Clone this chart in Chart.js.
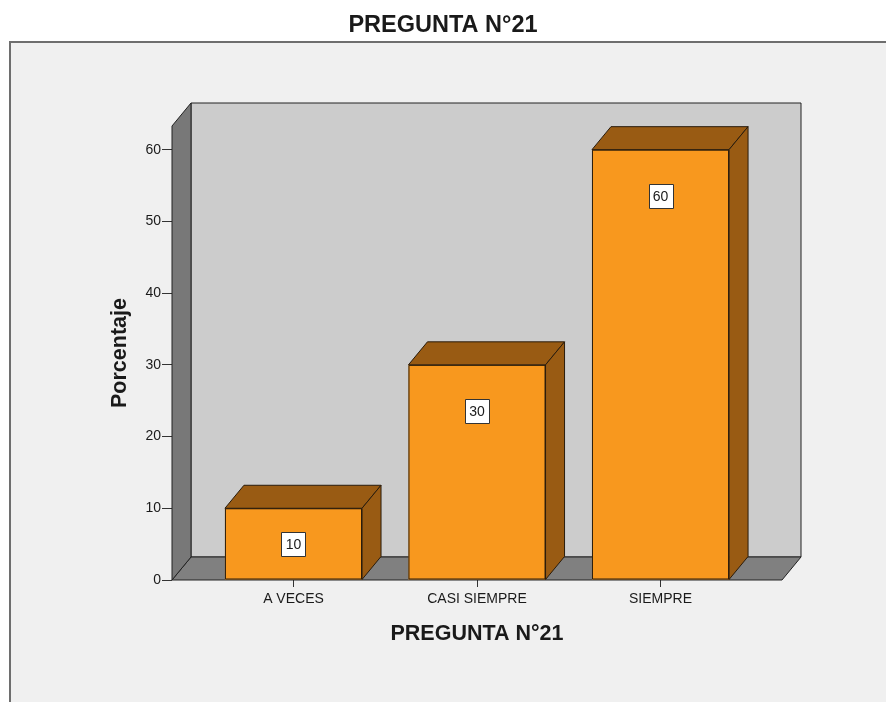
<!DOCTYPE html>
<html>
<head>
<meta charset="utf-8">
<script src="https://cdn.jsdelivr.net/npm/chart.js@4/dist/chart.umd.min.js"></script>
<style>
  html, body { margin: 0; padding: 0; background: #ffffff; }
  #wrap { width: 886px; height: 702px; }
</style>
</head>
<body>
<div id="wrap"><canvas id="c" width="886" height="702"></canvas></div>
<script>
// Chart content
const chartTitle = 'PREGUNTA N°21';
const xAxisTitle = 'PREGUNTA N°21';
const yAxisTitle = 'Porcentaje';
const categories = ['A VECES', 'CASI SIEMPRE', 'SIEMPRE'];
const percentages = [10, 30, 60];
const yTicks = [0, 10, 20, 30, 40, 50, 60];

// Styling
const FONT = "'Liberation Sans', Arial, sans-serif";
const DEPTH_X = 19;
const DEPTH_Y = 23;
const COL = {
  page: '#ffffff',
  panel: '#f0f0f0',
  panelEdge: '#6e6e6e',
  backWall: '#cccccc',
  sideWall: '#787878',
  floor: '#808080',
  wallLine: '#222222',
  barFront: '#f8981e',
  barDepth: '#995b13',
  barLine: '#2a1c0c',
  text: '#1a1a1a'
};

function poly(ctx, pts, fill, stroke) {
  ctx.beginPath();
  ctx.moveTo(pts[0][0], pts[0][1]);
  for (let i = 1; i < pts.length; i++) ctx.lineTo(pts[i][0], pts[i][1]);
  ctx.closePath();
  ctx.fillStyle = fill;
  ctx.fill();
  ctx.lineWidth = 1;
  ctx.strokeStyle = stroke;
  ctx.stroke();
}

// Panel, 3D walls, bar depth faces and value boxes
const depthPlugin = {
  id: 'depth3d',
  beforeDraw(chart) {
    const ctx = chart.ctx;
    ctx.save();
    ctx.fillStyle = COL.page;
    ctx.fillRect(0, 0, chart.width, chart.height);
    ctx.fillStyle = COL.panel;
    ctx.fillRect(9, 41, chart.width - 9, chart.height - 41);
    ctx.strokeStyle = COL.panelEdge;
    ctx.lineWidth = 2;
    ctx.beginPath();
    ctx.moveTo(10, chart.height);
    ctx.lineTo(10, 42);
    ctx.lineTo(chart.width, 42);
    ctx.stroke();
    ctx.restore();
  },
  beforeDatasetsDraw(chart) {
    const ctx = chart.ctx;
    const { left, right, top, bottom } = chart.chartArea;
    const dx = DEPTH_X, dy = DEPTH_Y;
    ctx.save();
    ctx.lineJoin = 'round';
    // back wall
    poly(ctx, [[left + dx, top - dy], [right + dx, top - dy], [right + dx, bottom - dy], [left + dx, bottom - dy]], COL.backWall, COL.wallLine);
    // floor
    poly(ctx, [[left, bottom], [right, bottom], [right + dx, bottom - dy], [left + dx, bottom - dy]], COL.floor, COL.wallLine);
    // left side wall
    poly(ctx, [[left, top], [left + dx, top - dy], [left + dx, bottom - dy], [left, bottom]], COL.sideWall, COL.wallLine);
    ctx.restore();
  },
  afterDatasetsDraw(chart) {
    const ctx = chart.ctx;
    const dx = DEPTH_X, dy = DEPTH_Y;
    const meta = chart.getDatasetMeta(0);
    ctx.save();
    ctx.lineJoin = 'round';
    meta.data.forEach((bar, i) => {
      const { x, y, base, width } = bar.getProps(['x', 'y', 'base', 'width'], true);
      const x0 = x - width / 2, x1 = x + width / 2;
      // top face
      poly(ctx, [[x0, y], [x1, y], [x1 + dx, y - dy], [x0 + dx, y - dy]], COL.barDepth, COL.barLine);
      // right face
      poly(ctx, [[x1, y], [x1 + dx, y - dy], [x1 + dx, base - dy], [x1, base]], COL.barDepth, COL.barLine);
      // front outline
      ctx.strokeStyle = COL.barLine;
      ctx.lineWidth = 1;
      ctx.strokeRect(x0 + 0.5, y + 0.5, width - 1, base - y - 1);

      // value box
      const txt = String(percentages[i]);
      ctx.font = '14px ' + FONT;
      const tw = ctx.measureText(txt).width;
      const bw = Math.round(tw + 8), bh = 24;
      const cy = Math.min(y + 46, (y + base) / 2);
      const bx = Math.round(x - bw / 2) + 0.5, by = Math.round(cy - bh / 2) + 0.5;
      ctx.fillStyle = '#ffffff';
      ctx.fillRect(bx, by, bw, bh);
      ctx.strokeStyle = '#333333';
      ctx.strokeRect(bx, by, bw, bh);
      ctx.fillStyle = COL.text;
      ctx.textAlign = 'center';
      ctx.textBaseline = 'middle';
      ctx.fillText(txt, x, cy + 1);
    });
    ctx.restore();
  }
};

new Chart(document.getElementById('c'), {
  type: 'bar',
  data: {
    datasets: [{
      label: yAxisTitle,
      data: percentages.map((v, i) => ({ x: i, y: v })),
      backgroundColor: COL.barFront,
      borderWidth: 0,
      categoryPercentage: 1,
      barPercentage: 0.747
    }]
  },
  options: {
    responsive: false,
    animation: false,
    events: [],
    layout: { padding: { left: 104, right: 104, top: 0, bottom: 0 } },
    plugins: {
      legend: { display: false },
      tooltip: { enabled: false },
      title: {
        display: true,
        text: chartTitle,
        color: COL.text,
        font: { family: FONT, size: 23.5, weight: 'bold' },
        padding: { top: 11, bottom: 86.8 }
      }
    },
    scales: {
      x: {
        type: 'linear',
        offset: false,
        min: -0.662,
        max: 2.662,
        afterBuildTicks(scale) { scale.ticks = categories.map((c, i) => ({ value: i })); },
        afterFit(scale) { scale.height = 122; },
        ticks: {
          autoSkip: false,
          maxRotation: 0,
          padding: 4,
          color: COL.text,
          font: { family: FONT, size: 14 },
          callback: (v) => categories[v]
        },
        grid: { display: true, offset: false, drawOnChartArea: false, drawTicks: true, tickLength: 7, tickColor: '#333333' },
        border: { display: false },
        title: {
          display: true,
          text: xAxisTitle,
          color: COL.text,
          font: { family: FONT, size: 21.5, weight: 'bold' },
          padding: { top: 0, bottom: 55 }
        }
      },
      y: {
        min: 0,
        max: 63.3,
        afterBuildTicks(scale) { scale.ticks = yTicks.map(v => ({ value: v })); },
        afterFit(scale) { scale.width = 68; },
        ticks: {
          padding: 1,
          color: COL.text,
          font: { family: FONT, size: 14 }
        },
        grid: { display: true, drawOnChartArea: false, drawTicks: true, tickLength: 10, tickColor: '#333333' },
        border: { display: false },
        title: {
          display: true,
          text: yAxisTitle,
          color: COL.text,
          font: { family: FONT, size: 21.5, weight: 'bold' },
          padding: { top: 3, bottom: 0 }
        }
      }
    }
  },
  plugins: [depthPlugin]
});
</script>
</body>
</html>
